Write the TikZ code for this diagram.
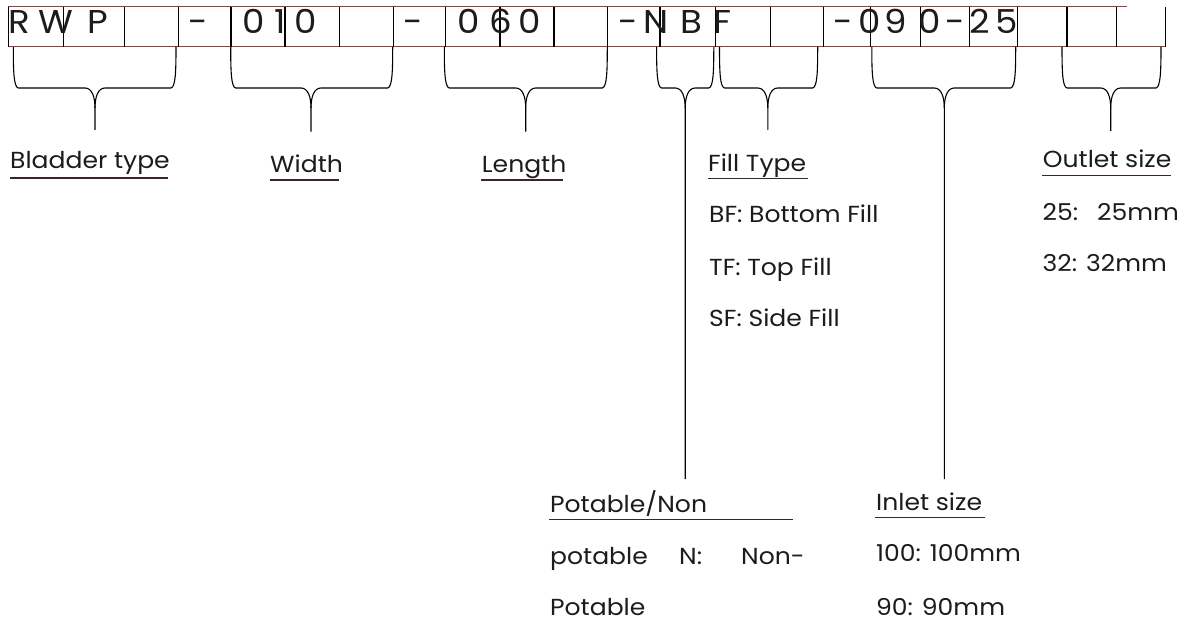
\documentclass[tikz,border=0pt]{standalone}
\usepackage{fontspec}
\setmainfont{Poppins}[FakeStretch=1.08]
\definecolor{txt}{RGB}{28,28,28}
\definecolor{boxred}{RGB}{150,62,52}
\definecolor{uline}{RGB}{60,38,36}
\newcommand\cellfont{\fontsize{33}{35}\selectfont}
\newcommand\lblfont{\fontsize{23.2}{26}\selectfont}
\newcommand\cbrk[5]{%
  \draw[brk] (#2,47) .. controls (#2,72) and ({#2+0.5},87) .. ({#2+5},88) -- ({#4-10},88) .. controls ({#4-3},88) and (#4,97) .. (#4,108) -- (#4,#5);
  \draw[brk] (#3,47) .. controls (#3,72) and ({#3-0.5},87) .. ({#3-5},88) -- ({#4+10},88) .. controls ({#4+3},88) and (#4,97) .. (#4,108);
  \coordinate (#1) at (#4,#5);
}
\begin{document}
\begin{tikzpicture}[x=1pt,y=-1pt,
  brk/.style={draw=black,line width=1.1pt},
  sep/.style={draw=black,line width=1.1pt},
  hline/.style={draw=boxred,line width=1pt},
  ul/.style={draw=uline,line width=1.5pt},
  ch/.style={anchor=base,inner sep=0pt,font=\cellfont,text=txt},
  lbl/.style={anchor=base west,inner sep=0pt,font=\lblfont,text=txt}]
\useasboundingbox[fill=white] (0,0) rectangle (1187,623);
% box
\draw[hline] (8.3,7) -- (1127,7);
\draw[hline] (8.3,46.7) -- (1165.3,46.7);
\foreach \x in {8.3,63.3,124.3,178.3,231,285,339.3,393.3,445.7,500,554,607.3,660,715.7,770.7,823.3,870.7,920.3,969.7,1017.7,1067,1116.3,1165.3}
  \draw[sep] (\x,7) -- (\x,46.7);
% characters
\node[ch] (c1) at (19,33.3) {R};
\node[ch] (c2) at (56,33.3) {W};
\node[ch] (c3) at (97.5,33.3) {P};
\node[ch] (c4) at (198.3,33.3) {-};
\node[ch] (c5) at (254,33.3) {0};
\node[ch] (c6) at (280.5,33.3) {1};
\node[ch] (c7) at (306,33.3) {0};
\node[ch] (c8) at (413,33.3) {-};
\node[ch] (c9) at (469,33.3) {0};
\node[ch] (c10) at (500.5,33.3) {6};
\node[ch] (c11) at (530,33.3) {0};
\node[ch] (c12) at (628,33.3) {-};
\node[ch] (c13) at (656,33.3) {N};
\node[ch] (c14) at (691,33.3) {B};
\node[ch] (c15) at (722,33.3) {F};
\node[ch] (c16) at (843,33.3) {-};
\node[ch] (c17) at (870,33.3) {0};
\node[ch] (c18) at (896,33.3) {9};
\node[ch] (c19) at (929.5,33.3) {0};
\node[ch] (c20) at (955,33.3) {-};
\node[ch] (c21) at (979.5,33.3) {2};
\node[ch] (c22) at (1006.5,33.3) {5};
% brackets
\cbrk{b1}{13.3}{176}{95}{130}
\cbrk{b2}{230.7}{392.7}{311}{131.7}
\cbrk{b3}{444.3}{607.3}{525.7}{131.7}
\cbrk{b4}{656.6}{713.8}{685.2}{479}
\cbrk{b5}{719.5}{817.7}{767.8}{130}
\cbrk{b6}{871.8}{1015.7}{944.3}{479}
\cbrk{b7}{1062}{1161}{1110.7}{131}
% labels
\node[lbl] (bt) at (10,168.3) {Bladder type};
\draw[ul] (10,178) -- (168,178);
\node[lbl] (wd) at (270,172.7) {Width};
\draw[ul] (270,180) -- (339,180);
\node[lbl] (ln) at (481.7,173) {Length};
\draw[ul] (481,180) -- (563,180);
\node[lbl] (ft) at (708,171.7) {Fill Type};
\draw[ul] (708,178.3) -- (808,178.3);
\node[lbl] (ft1) at (709,222.7) {BF: Bottom Fill};
\node[lbl] (ft2) at (709,275) {TF: Top Fill};
\node[lbl] (ft3) at (709,326.7) {SF: Side Fill};
\node[lbl] (os) at (1042.7,168) {Outlet size};
\draw[ul] (1042,175.5) -- (1171,175.5);
\node[lbl] (os1a) at (1042.5,220) {25:};
\node[lbl] (os1b) at (1097,220) {25mm};
\node[lbl] (os2) at (1042.5,271.7) {32: 32mm};
\node[lbl] (pn) at (550,512.7) {Potable/Non};
\draw[ul] (549,519.5) -- (793,519.5);
\node[lbl] (pn1a) at (550,564) {potable};
\node[lbl] (pn1b) at (679,564) {N:};
\node[lbl] (pn1c) at (741,564) {Non-};
\node[lbl] (pn2) at (550,615) {Potable};
\node[lbl] (is) at (876,510) {Inlet size};
\draw[ul] (875,517.7) -- (985,517.7);
\node[lbl] (is1) at (876,561.7) {100: 100mm};
\node[lbl] (is2) at (876,615) {90: 90mm};
\end{tikzpicture}
\end{document}
